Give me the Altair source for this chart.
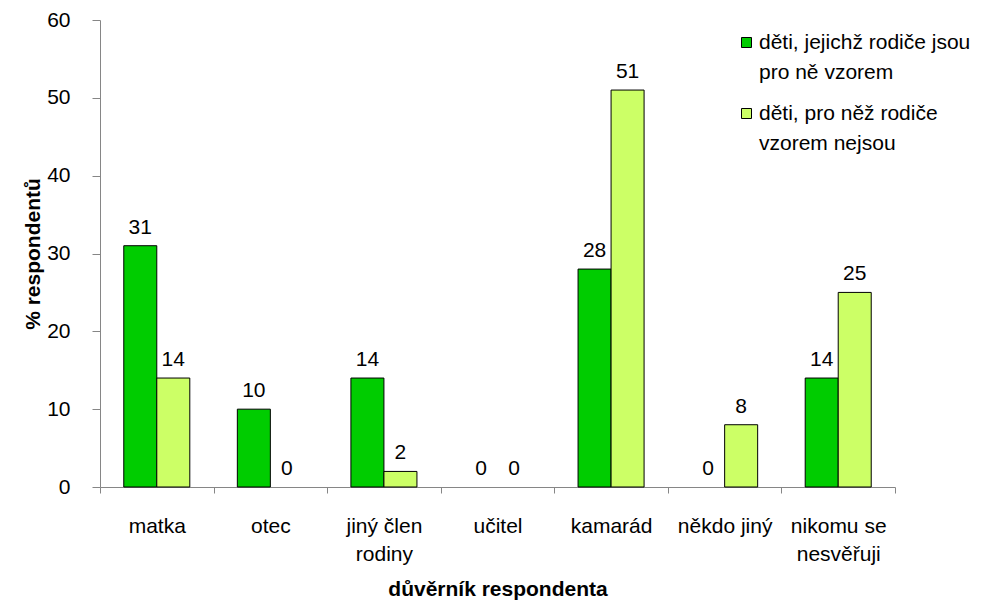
import altair as alt
import pandas as pd

categories = ["matka", "otec", "jiný člen|rodiny", "učitel", "kamarád", "někdo jiný", "nikomu se|nesvěřuji"]
series = ["děti, jejichž rodiče jsou|pro ně vzorem", "děti, pro něž rodiče|vzorem nejsou"]
values_role = [31, 10, 14, 0, 28, 0, 14]
values_norole = [14, 0, 2, 0, 51, 8, 25]
colors = ["#00CC00", "#CCFF66"]
y_ticks = [0, 10, 20, 30, 40, 50, 60]

rows = []
for c, a, b in zip(categories, values_role, values_norole):
    rows.append({"cat": c, "ser": series[0], "val": a})
    rows.append({"cat": c, "ser": series[1], "val": b})
df = pd.DataFrame(rows)

FONT = "Liberation Sans"
FS = 21
AX = "#868686"

x = alt.X("cat:N", sort=categories, title="důvěrník respondenta",
          scale=alt.Scale(paddingInner=0, paddingOuter=0),
          axis=alt.Axis(labelAngle=0, labelExpr="split(datum.label, '|')", tickBand="extent",
                        tickSize=6, labelPadding=22, labelLineHeight=28, domainColor=AX, tickColor=AX,
                        labelFontSize=FS, labelFont=FONT, labelColor="black",
                        titleFont=FONT, titleFontSize=FS, titleFontWeight="bold", titleColor="black",
                        titlePadding=14))
xo = alt.XOffset("ser:N", sort=series, scale=alt.Scale(paddingOuter=0.72, paddingInner=0))
y = alt.Y("val:Q", title="% respondentů",
          scale=alt.Scale(domain=[0, 60], nice=False),
          axis=alt.Axis(values=y_ticks, grid=False, tickSize=8, labelPadding=22, domainColor=AX, tickColor=AX,
                        labelFontSize=FS, labelFont=FONT, labelColor="black",
                        titleFont=FONT, titleFontSize=FS, titleFontWeight="bold", titleColor="black",
                        titlePadding=3))
color = alt.Color("ser:N", sort=series, scale=alt.Scale(domain=series, range=colors),
                  legend=alt.Legend(title=None, orient="none", legendX=636, legendY=12, padding=0,
                                    labelExpr="split(datum.label, '|')", labelFont=FONT, labelFontSize=FS,
                                    labelColor="black", symbolType="square", symbolSize=100,
                                    symbolStrokeColor="black", symbolStrokeWidth=1, rowPadding=19,
                                    labelOffset=2, labelLimit=400))

bars = alt.Chart(df).mark_bar(stroke="black").encode(
    x=x, xOffset=xo, y=y, color=color,
    strokeWidth=alt.condition("datum.val == 0", alt.value(0), alt.value(1)))
labels = alt.Chart(df).mark_text(baseline="alphabetic", dy=-12, fontSize=FS, font=FONT, color="black").encode(
    x=x, xOffset=xo, y=y, text="val:Q")

chart = (bars + labels).properties(
    width=795, height=467,
    autosize=alt.AutoSizeParams(type="none"),
    padding={"left": 92, "top": 12, "right": 99, "bottom": 113},
).configure(style={"guide-label": {"lineHeight": 30}}).configure_view(strokeWidth=0)

chart.save("out.html", embed_options={"renderer": "svg", "actions": False})
